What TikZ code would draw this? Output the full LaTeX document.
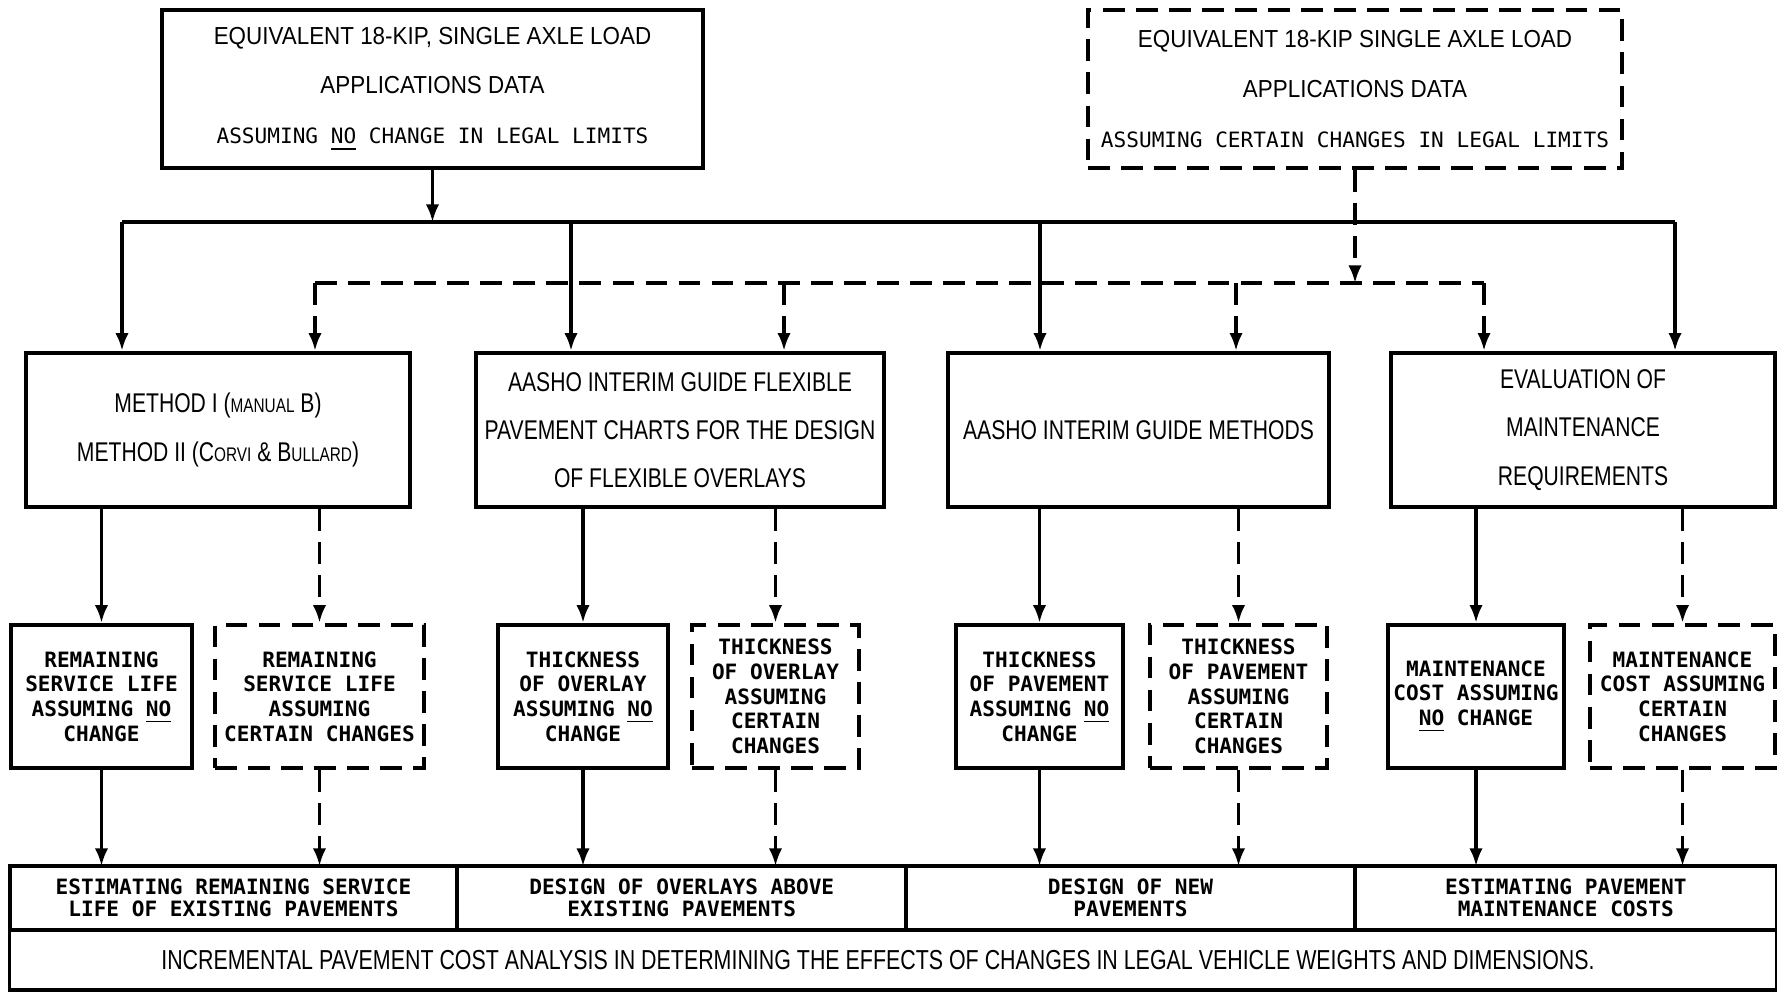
\documentclass[tikz,border=0pt]{standalone}
\usepackage{fontspec}
\usepackage{tikz}
\usetikzlibrary{arrows.meta, positioning}
\newfontfamily\leroy[FakeStretch=0.78]{Liberation Sans}
\newfontfamily\leroywide[FakeStretch=0.91]{Liberation Sans}
\newfontfamily\stencil{DejaVu Sans Mono}
\newcommand{\lowcaps}[1]{{\fontsize{5.6}{6}\selectfont #1}}

\begin{document}
\begin{tikzpicture}[x=0.01cm, y=-0.01cm, >={Latex[length=5pt, width=3.8pt]},
    solidbox/.style={draw, rectangle, line width=1.3pt, inner sep=0pt, align=center},
    dashbox/.style={solidbox, dash pattern=on 6.2pt off 3.2pt},
    link/.style={line width=0.9pt},
    dlink/.style={line width=0.9pt, dash pattern=on 6.2pt off 3.2pt},
    head/.style={font=\leroywide\fontsize{7}{14.2}\selectfont},
    main/.style={font=\leroy\fontsize{7.7}{13.7}\selectfont},
    leaf/.style={font=\stencil\bfseries\fontsize{6}{7}\selectfont, minimum height=1.43cm},
    cell/.style={draw, rectangle, line width=1.1pt, inner sep=0pt, outer sep=0pt, align=center}]
    \useasboundingbox (0,0) rectangle (1777,993);

    % Nodes
    \node [solidbox, head, minimum width=5.41cm, minimum height=1.58cm] (loadno) at (432.5,89) {EQUIVALENT 18-KIP, SINGLE AXLE LOAD\\ APPLICATIONS DATA\\ {\stencil\fontsize{6}{7}\selectfont ASSUMING \underline{NO} CHANGE IN LEGAL LIMITS}};
    \node [dashbox, head, minimum width=5.34cm, minimum height=1.58cm] (loadchg) at (1355,89) {EQUIVALENT 18-KIP SINGLE AXLE LOAD\\ APPLICATIONS DATA\\ {\stencil\fontsize{6}{7}\selectfont ASSUMING CERTAIN CHANGES IN LEGAL LIMITS}};

    \node [solidbox, main, minimum width=3.84cm, minimum height=1.54cm] (methods) at (218,430) {METHOD I (\lowcaps{MANUAL} B)\\ METHOD II (C\lowcaps{ORVI} \& B\lowcaps{ULLARD})};
    \node [solidbox, main, minimum width=4.08cm, minimum height=1.54cm] (overlay) at (680,430) {AASHO INTERIM GUIDE FLEXIBLE\\ PAVEMENT CHARTS FOR THE DESIGN\\ OF FLEXIBLE OVERLAYS};
    \node [solidbox, main, minimum width=3.81cm, minimum height=1.54cm] (aasho) at (1138.5,430) {AASHO INTERIM GUIDE METHODS};
    \node [solidbox, main, minimum width=3.84cm, minimum height=1.54cm] (maint) at (1583,430) {EVALUATION OF\\ MAINTENANCE\\ REQUIREMENTS};

    \node [solidbox, leaf, minimum width=1.81cm] (remno) at (101.5,696.5) {REMAINING\\ SERVICE LIFE\\ ASSUMING \underline{NO}\\ CHANGE};
    \node [dashbox, leaf, minimum width=2.09cm] (remchg) at (319.5,696.5) {REMAINING\\ SERVICE LIFE\\ ASSUMING\\ CERTAIN CHANGES};
    \node [solidbox, leaf, minimum width=1.70cm] (ovno) at (583,696.5) {THICKNESS\\ OF OVERLAY\\ ASSUMING \underline{NO}\\ CHANGE};
    \node [dashbox, leaf, minimum width=1.67cm] (ovchg) at (775.5,696.5) {THICKNESS\\ OF OVERLAY\\ ASSUMING\\ CERTAIN\\ CHANGES};
    \node [solidbox, leaf, minimum width=1.67cm] (pavno) at (1039.5,696.5) {THICKNESS\\ OF PAVEMENT\\ ASSUMING \underline{NO}\\ CHANGE};
    \node [dashbox, leaf, minimum width=1.77cm] (pavchg) at (1238.5,696.5) {THICKNESS\\ OF PAVEMENT\\ ASSUMING\\ CERTAIN\\ CHANGES};
    \node [solidbox, leaf, minimum width=1.76cm] (costno) at (1476,696.5) {MAINTENANCE\\ COST ASSUMING\\ \underline{NO} CHANGE};
    \node [dashbox, leaf, minimum width=1.85cm] (costchg) at (1682.5,696.5) {MAINTENANCE\\ COST ASSUMING\\ CERTAIN\\ CHANGES};

    \node [cell, font=\stencil\bfseries\fontsize{6}{6.3}\selectfont, minimum width=4.47cm, minimum height=0.64cm] (cellA) at (233.5,898) {ESTIMATING REMAINING SERVICE\\ LIFE OF EXISTING PAVEMENTS};
    \node [cell, font=\stencil\bfseries\fontsize{6}{6.3}\selectfont, minimum width=4.49cm, minimum height=0.64cm, right=0pt of cellA] (cellB) {DESIGN OF OVERLAYS ABOVE\\ EXISTING PAVEMENTS};
    \node [cell, font=\stencil\bfseries\fontsize{6}{6.3}\selectfont, minimum width=4.48cm, minimum height=0.64cm, right=0pt of cellB] (cellC) {DESIGN OF NEW\\ PAVEMENTS};
    \node [cell, font=\stencil\bfseries\fontsize{6}{6.3}\selectfont, minimum width=4.22cm, minimum height=0.64cm, right=0pt of cellC] (cellD) {ESTIMATING PAVEMENT\\ MAINTENANCE COSTS};
    \node [cell, font=\leroy\fontsize{7.8}{8.5}\selectfont, minimum width=17.66cm, minimum height=0.60cm] (total) at (893,960) {\hspace*{-0.3cm}INCREMENTAL PAVEMENT COST ANALYSIS IN DETERMINING THE EFFECTS OF CHANGES IN LEGAL VEHICLE WEIGHTS AND DIMENSIONS.};

    % Paths
    \coordinate (busW) at (122,222);
    \coordinate (busE) at (1675,222);
    \draw[link] (busW) -- (busE);
    \draw[->, link] (loadno) -- (loadno |- busW);
    \foreach \x/\n in {122/methods, 571/overlay, 1040/aasho, 1675/maint} {
        \coordinate (tap\n) at (\x,222);
        \draw[->, link] (tap\n) -- (tap\n |- \n.north);
    }

    \coordinate (dbusW) at (315,283);
    \coordinate (dbusE) at (1484,283);
    \draw[dlink] (dbusW) -- (dbusE);
    \draw[->, dlink] (loadchg) -- (loadchg |- dbusW);
    \foreach \x/\n in {315/methods, 784/overlay, 1236/aasho, 1484/maint} {
        \coordinate (dtap\n) at (\x,283);
        \draw[->, dlink] (dtap\n) -- (dtap\n |- \n.north);
    }

    \foreach \a/\b in {methods/remno, overlay/ovno, aasho/pavno, maint/costno}
        \draw[->, link] (\b |- \a.south) -- (\b);
    \foreach \a/\b in {methods/remchg, overlay/ovchg, aasho/pavchg, maint/costchg}
        \draw[->, dlink] (\b |- \a.south) -- (\b);

    \foreach \a/\b in {remno/cellA, ovno/cellB, pavno/cellC, costno/cellD}
        \draw[->, link] (\a) -- (\a |- \b.north);
    \foreach \a/\b in {remchg/cellA, ovchg/cellB, pavchg/cellC, costchg/cellD}
        \draw[->, dlink] (\a) -- (\a |- \b.north);
\end{tikzpicture}
\end{document}
